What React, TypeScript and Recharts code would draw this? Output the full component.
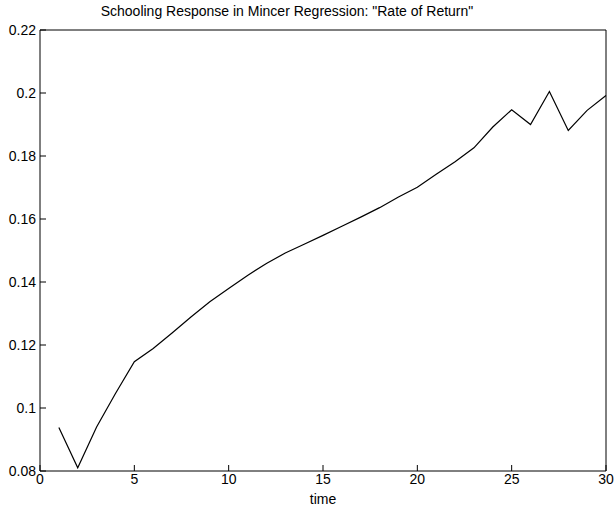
import { LineChart, Line, XAxis, YAxis } from 'recharts'

const periods = [
  1, 2, 3, 4, 5, 6, 7, 8, 9, 10, 11, 12, 13, 14, 15,
  16, 17, 18, 19, 20, 21, 22, 23, 24, 25, 26, 27, 28, 29, 30,
]
const returnRate = [
  0.0938, 0.0810, 0.0940, 0.1046, 0.1147, 0.1189, 0.1238, 0.1289, 0.1337, 0.1379,
  0.1421, 0.1459, 0.1492, 0.1520, 0.1548, 0.1577, 0.1606, 0.1636, 0.1670, 0.1701,
  0.1742, 0.1782, 0.1826, 0.1892, 0.1947, 0.1900, 0.2005, 0.1881, 0.1945, 0.1992,
]
const xTicks = [0, 5, 10, 15, 20, 25, 30]
const yTicks = [0.08, 0.1, 0.12, 0.14, 0.16, 0.18, 0.2, 0.22]

const data = periods.map((t, i) => ({ t, r: returnRate[i] }))

const font = 'Helvetica, Arial, "Liberation Sans", sans-serif'
const tickStyle = { fill: '#000', fontSize: 14, fontFamily: font }
const fmt = (v: number) => String(+v.toFixed(2))

export default function App() {
  return (
    <div style={{ position: 'absolute', left: 0, top: 0, width: 616, height: 508, background: '#fff' }}>
      <div
        style={{
          position: 'absolute',
          left: 0,
          width: 574,
          top: 3,
          textAlign: 'center',
          fontFamily: font,
          fontSize: 14,
          color: '#000',
          whiteSpace: 'nowrap',
        }}
      >
        Schooling Response in Mincer Regression: "Rate of Return"
      </div>
      <LineChart width={616} height={508} data={data} margin={{ top: 29, right: 9, bottom: 0, left: 39 }}>
        <XAxis
          dataKey="t"
          type="number"
          domain={[0, 30]}
          ticks={xTicks}
          height={37}
          stroke="#000"
          tickSize={-6}
          tickMargin={9}
          tick={tickStyle}
          label={{ value: 'time', position: 'insideBottom', offset: 4, fill: '#000', fontSize: 14, fontFamily: font }}
        />
        <XAxis
          xAxisId="top"
          orientation="top"
          dataKey="t"
          type="number"
          domain={[0, 30]}
          ticks={xTicks}
          height={1}
          stroke="#000"
          tickSize={-6}
          tick={false}
        />
        <YAxis
          domain={[0.08, 0.22]}
          ticks={yTicks}
          width={1}
          stroke="#000"
          tickSize={-6}
          tickMargin={10}
          tick={tickStyle}
          tickFormatter={fmt}
        />
        <YAxis
          yAxisId="right"
          orientation="right"
          domain={[0.08, 0.22]}
          ticks={yTicks}
          width={1}
          stroke="#000"
          tickSize={-6}
          tick={false}
        />
        <Line
          type="linear"
          dataKey="r"
          stroke="#000"
          strokeWidth={1.2}
          dot={false}
          isAnimationActive={false}
        />
      </LineChart>
    </div>
  )
}
